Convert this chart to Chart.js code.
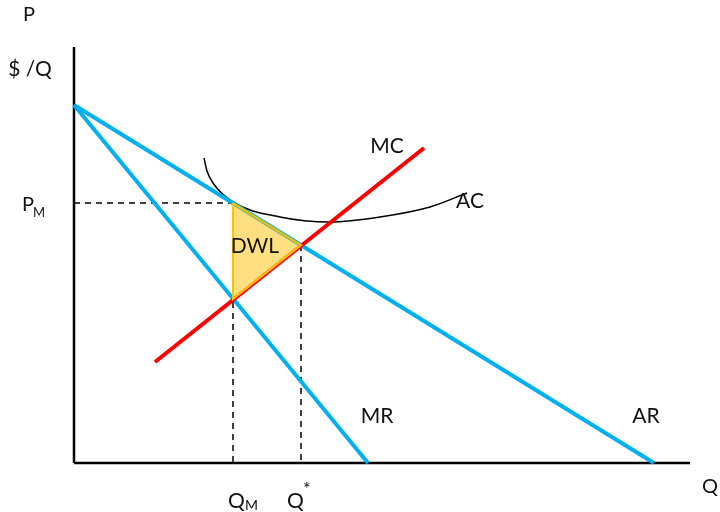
<!DOCTYPE html>
<html lang="en">
<head>
  <meta charset="UTF-8">
  <title>Monopoly deadweight loss</title>
  <script src="https://cdn.jsdelivr.net/npm/chart.js"></script>
  <style>
    html, body { margin: 0; padding: 0; background: #fff; }
    canvas { display: block; }
  </style>
</head>
<body>
  <canvas id="grafico" width="720" height="512"></canvas>

  <script>
    // Curves (Q on x, P on y)
    const arQ = [0, 580];
    const arP = [358, 0];
    const mrQ = [0, 294];
    const mrP = [358, 0];
    const mcQ = [81, 350];
    const mcP = [101, 315];
    const acQ = [130, 133, 139, 159, 206, 256, 306, 356, 393];
    const acP = [305, 292, 280, 261, 246, 241, 246, 256, 270];

    // Monopoly point and efficient point
    const qM = 159, pM = 260;
    const qStar = 227, pStar = 218;
    const mrAtQM = 164;

    const qMax = 616, pMax = 416;

    function pts(xs, ys) {
      return xs.map((x, i) => ({ x: x, y: ys[i] }));
    }

    function linha(data, color, width, extra) {
      return Object.assign({
        data: data,
        showLine: true,
        pointRadius: 0,
        borderColor: color,
        borderWidth: width,
        backgroundColor: color,
        fill: false,
        clip: false,
        order: 2
      }, extra || {});
    }

    // Text labels drawn on the canvas
    const rotulos = {
      id: "rotulos",
      afterDatasetsDraw(chart) {
        const ctx = chart.ctx;
        const sx = chart.scales.x, sy = chart.scales.y;
        const X = v => sx.getPixelForValue(v);
        const Y = v => sy.getPixelForValue(v);
        const fam = "Lato, 'Open Sans', sans-serif";
        ctx.save();
        ctx.fillStyle = "#111";
        ctx.textBaseline = "middle";

        function txt(t, x, y, size, align) {
          ctx.font = size + "px " + fam;
          ctx.textAlign = align || "center";
          ctx.fillText(t, x, y);
        }

        txt("P", X(-45), Y(448), 20);
        txt("$ /Q", X(-44), Y(394), 21);
        txt("Q", X(636), Y(-24), 20);

        // P_M
        txt("P", X(-52), Y(258), 20, "left");
        txt("M", X(-41), Y(250), 13, "left");
        // Q_M
        txt("Q", X(154), Y(-38), 21, "left");
        txt("M", X(171), Y(-42), 14, "left");
        // Q*
        txt("Q", X(213), Y(-38), 21, "left");
        txt("*", X(229), Y(-26), 18, "left");

        txt("MC", X(313), Y(317), 21);
        txt("AC", X(396), Y(262), 21);
        txt("DWL", X(181), Y(217), 21);
        txt("MR", X(303), Y(47), 21);
        txt("AR", X(572), Y(47), 21);
        ctx.restore();
      }
    };

    const tracejado = [6, 5];

    new Chart(document.getElementById("grafico").getContext("2d"), {
      type: "scatter",
      data: {
        datasets: [
          // DWL triangle on top of the curves
          linha(pts([qM, qStar, qM, qM], [pM, pStar, mrAtQM, pM]), "#FFC000", 2, {
            backgroundColor: "rgba(255,192,0,0.5)",
            fill: "shape",
            order: 0
          }),
          linha(pts(mcQ, mcP), "#FF0000", 4, { order: 1 }),
          linha(pts(arQ, arP), "#00B0F0", 4),
          linha(pts(mrQ, mrP), "#00B0F0", 4),
          linha(pts(acQ, acP), "#000", 1.5, { cubicInterpolationMode: "monotone" }),
          // dashed guides
          linha(pts([0, qM], [pM, pM]), "#000", 1.5, { borderDash: tracejado, order: 3 }),
          linha(pts([qM, qM], [pM, 0]), "#000", 1.5, { borderDash: tracejado, order: 3 }),
          linha(pts([qStar, qStar], [pStar, 0]), "#000", 1.5, { borderDash: tracejado, order: 3 }),
          // axes
          linha(pts([0, 0], [0, pMax]), "#000", 2.5, { order: 4 }),
          linha(pts([0, qMax], [0, 0]), "#000", 2.5, { order: 4 })
        ]
      },
      options: {
        responsive: false,
        animation: false,
        layout: { padding: { left: 74, right: 30, top: 47, bottom: 49 } },
        scales: {
          x: { type: "linear", min: 0, max: qMax, display: false },
          y: { type: "linear", min: 0, max: pMax, display: false }
        },
        plugins: {
          legend: { display: false },
          tooltip: { enabled: false }
        }
      },
      plugins: [rotulos]
    });
  </script>
</body>
</html>
